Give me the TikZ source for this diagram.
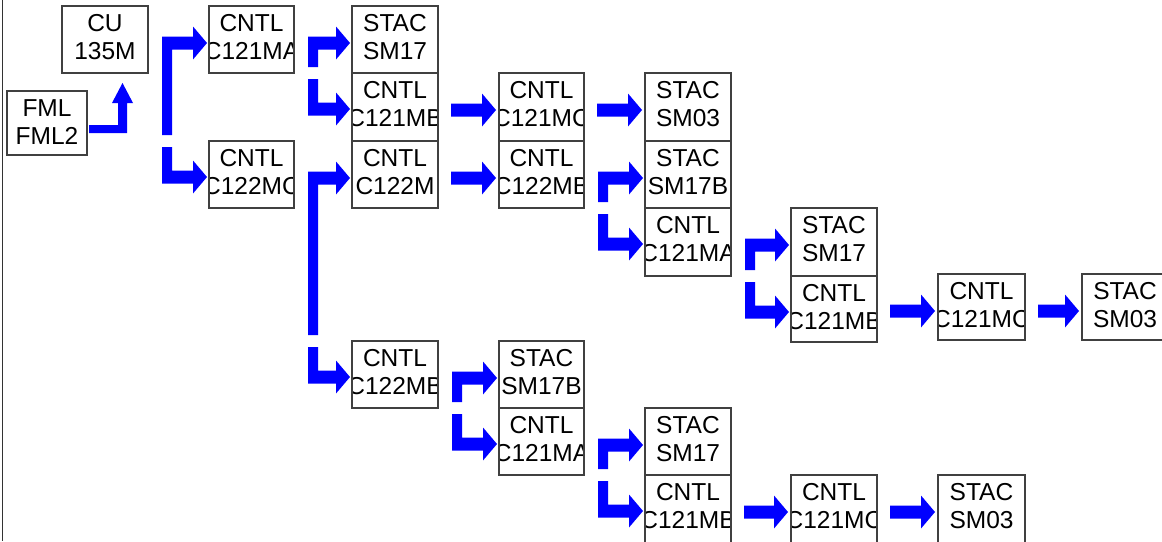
\documentclass[tikz,border=0pt]{standalone}
\usepackage{fontspec}
\setmainfont{Liberation Sans}
\usetikzlibrary{calc}
\newcommand\bxfont{\fontsize{24.5}{28}\selectfont}
\tikzset{
  box/.style={draw=black!75, line width=1.1pt, fill=white, inner sep=0pt, outer sep=0pt},
  boxtext/.style={anchor=base, font=\bxfont, inner sep=0pt, draw=none, fill=none, text=black},
  arrowfill/.style={fill=blue, draw=none},
}
% name, x1, y1, x2, y2, line 1, line 2
\newcommand\bx[7]{%
  \node[box, minimum width={#4-#2}, minimum height={#5-#3},
    path picture={
      \node[boxtext] at ($(path picture bounding box.north)+(0,25.5)$) {#6};
      \node[boxtext] at ($(path picture bounding box.north)+(0,53.5)$) {#7};
    }] (#1) at ({(#2+#4)/2},{(#3+#5)/2}) {};
}
% straight arrow: source, target
\newcommand\straightarr[2]{%
  \fill[arrowfill] let \p1=(#1.east), \p2=(#2.north west) in
    (\x1+13pt,\y2-30.5pt) -- (\x2-17pt,\y2-30.5pt) -- (\x2-17pt,\y2-20.5pt)
    -- (\x2-3pt,\y2-37pt) -- (\x2-17pt,\y2-53.5pt) -- (\x2-17pt,\y2-43.5pt)
    -- (\x1+13pt,\y2-43.5pt) -- cycle;
}
% forked arrows: source, upper target, lower target
\newcommand\forkarr[3]{%
  \fill[arrowfill] let \p1=(#1.east), \p2=(#2.north west), \p3=(#3.north west) in
    (\x1+14pt,\y3+6pt) -- (\x1+14pt,\y2-30.5pt) -- (\x2-16pt,\y2-30.5pt)
    -- (\x2-16pt,\y2-20.5pt) -- (\x2-2pt,\y2-37pt) -- (\x2-16pt,\y2-53.5pt)
    -- (\x2-16pt,\y2-43.5pt) -- (\x1+24pt,\y2-43.5pt) -- (\x1+24pt,\y3+6pt) -- cycle
    (\x1+14pt,\y3-6pt) -- (\x1+14pt,\y3-42.5pt) -- (\x3-16pt,\y3-42.5pt)
    -- (\x3-16pt,\y3-52.5pt) -- (\x3-2pt,\y3-36pt) -- (\x3-16pt,\y3-19.5pt)
    -- (\x3-16pt,\y3-29.5pt) -- (\x1+24pt,\y3-29.5pt) -- (\x1+24pt,\y3-6pt) -- cycle;
}
\begin{document}
\begin{tikzpicture}[x=1pt, y=-1pt]
\path[use as bounding box] (0,0) rectangle (1162,541);
\fill[white] (0,0) rectangle (1162,541);
\clip (0,0) rectangle (1162,541);
\draw[black!80, line width=1.2pt] (2.5,0) -- (2.5,541);

\bx{cu}{62}{6}{148}{73}{CU}{135M}
\bx{fml}{7}{91}{87}{155}{FML}{FML2}
\bx{a1}{209}{6}{294}{73}{CNTL}{C121MA}
\bx{a2}{209}{141}{294}{208}{CNTL}{C122MC}
\bx{b1}{352}{6}{438}{73}{STAC}{SM17}
\bx{b2}{352}{73}{438}{141}{CNTL}{C121MB}
\bx{b3}{352}{141}{438}{208}{CNTL}{C122M}
\bx{b4}{352}{341}{438}{408}{CNTL}{C122MB}
\bx{c1}{499}{73}{584}{141}{CNTL}{C121MC}
\bx{c2}{499}{141}{584}{208}{CNTL}{C122MB}
\bx{c3}{499}{341}{584}{408}{STAC}{SM17B}
\bx{c4}{499}{408}{584}{475}{CNTL}{C121MA}
\bx{d1}{645}{73}{731}{141}{STAC}{SM03}
\bx{d2}{645}{141}{731}{208}{STAC}{SM17B}
\bx{d3}{645}{208}{731}{276}{CNTL}{C121MA}
\bx{d4}{645}{408}{731}{475}{STAC}{SM17}
\bx{d5}{645}{475}{731}{543}{CNTL}{C121MB}
\bx{e1}{791}{208}{877}{276}{STAC}{SM17}
\bx{e2}{791}{276}{877}{342}{CNTL}{C121MB}
\bx{e3}{791}{475}{877}{543}{CNTL}{C121MC}
\bx{f1}{938}{274}{1025}{340}{CNTL}{C121MC}
\bx{f2}{938}{475}{1025}{543}{STAC}{SM03}
\bx{g1}{1082}{274}{1168}{340}{STAC}{SM03}

% FML -> CU
\fill[arrowfill] let \p1=(fml.east), \p2=(cu.south) in
  (\x1+2pt,\y1-2pt) -- (\x2+13pt,\y1-2pt) -- (\x2+13pt,\y2-30pt)
  -- (\x2+7pt,\y2-30pt) -- (\x2+17.5pt,\y2-10pt) -- (\x2+28pt,\y2-30pt)
  -- (\x2+22pt,\y2-30pt) -- (\x2+22pt,\y1-10pt) -- (\x1+2pt,\y1-10pt) -- cycle;

\forkarr{cu}{a1}{a2}
\forkarr{a1}{b1}{b2}
\forkarr{a2}{b3}{b4}
\straightarr{b2}{c1}
\straightarr{b3}{c2}
\straightarr{c1}{d1}
\forkarr{c2}{d2}{d3}
\forkarr{d3}{e1}{e2}
\straightarr{e2}{f1}
\straightarr{f1}{g1}
\forkarr{b4}{c3}{c4}
\forkarr{c4}{d4}{d5}
\straightarr{d5}{e3}
\straightarr{e3}{f2}
\end{tikzpicture}
\end{document}
